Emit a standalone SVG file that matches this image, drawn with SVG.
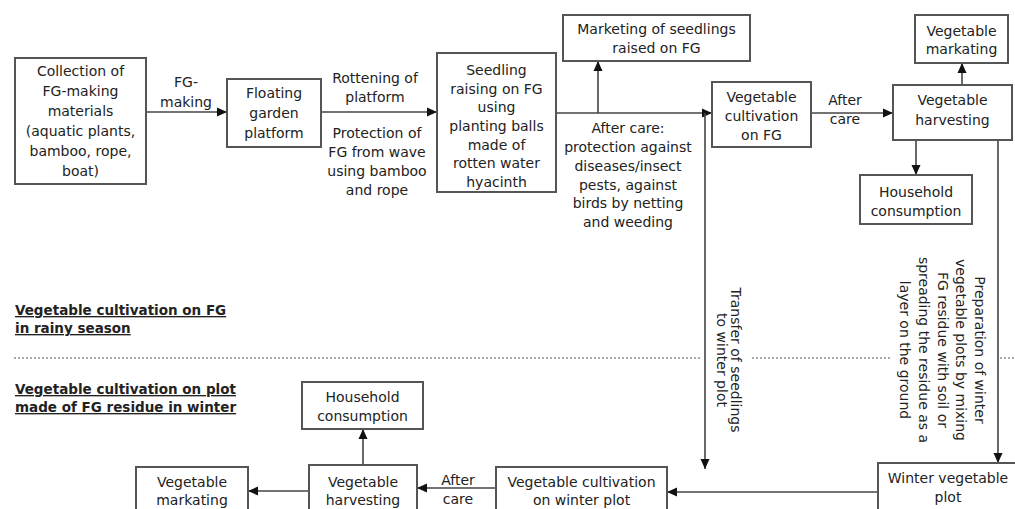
<svg xmlns="http://www.w3.org/2000/svg" width="1015" height="509" viewBox="0 0 1015 509">
<defs>
<marker id="ah" markerUnits="userSpaceOnUse" markerWidth="12" markerHeight="10" refX="10" refY="5" orient="auto">
<path d="M0,0.5 L10,5 L0,9.5 Z" fill="#111"/>
</marker>
<style>
.box{fill:#fff;stroke:#555;stroke-width:2}
.t{font-family:"DejaVu Sans",sans-serif;font-size:14px;fill:#222;text-anchor:middle}
.lbl{font-family:"DejaVu Sans",sans-serif;font-size:13.5px;font-weight:bold;fill:#222;text-decoration:underline}
.c{fill:none;stroke:#444;stroke-width:1.6}
.ca{fill:none;stroke:#444;stroke-width:1.6;marker-end:url(#ah)}
.dot{stroke:#aaa;stroke-width:2;stroke-dasharray:2,2}
</style>
</defs>
<rect width="1015" height="509" fill="#fff"/>

<g id="separator">
<line class="dot" x1="14" y1="358" x2="700" y2="358"/>
<line class="dot" x1="752" y1="358" x2="890" y2="358"/>
<line class="dot" x1="1000" y1="358" x2="1015" y2="358"/>
</g>

<g id="connectors">
<line class="ca" x1="146" y1="112" x2="227" y2="112"/>
<line class="ca" x1="321" y1="112" x2="437" y2="112"/>
<line class="ca" x1="556" y1="113" x2="712" y2="113"/>
<line class="ca" x1="598" y1="113" x2="598" y2="61"/>
<line class="ca" x1="705" y1="113" x2="705" y2="469"/>
<line class="ca" x1="811" y1="113" x2="893" y2="113"/>
<line class="ca" x1="962" y1="85" x2="962" y2="63"/>
<line class="ca" x1="916" y1="140" x2="916" y2="175"/>
<line class="ca" x1="998" y1="140" x2="998" y2="463"/>
<line class="ca" x1="878" y1="492" x2="667" y2="492"/>
<line class="ca" x1="496" y1="488" x2="417" y2="488"/>
<line class="ca" x1="363" y1="465" x2="363" y2="429"/>
<line class="ca" x1="309" y1="491" x2="248" y2="491"/>
</g>

<g id="edge-labels">
<text class="t"><tspan x="186" y="87">FG-</tspan><tspan x="186" y="107">making</tspan></text>
<text class="t"><tspan x="375" y="83">Rottening of</tspan><tspan x="375" y="102">platform</tspan></text>
<text class="t"><tspan x="377" y="138">Protection of</tspan><tspan x="377" y="157">FG from wave</tspan><tspan x="377" y="176">using bamboo</tspan><tspan x="377" y="195">and rope</tspan></text>
<text class="t"><tspan x="628" y="133">After care:</tspan><tspan x="628" y="152">protection against</tspan><tspan x="628" y="171">diseases/insect</tspan><tspan x="628" y="190">pests, against</tspan><tspan x="628" y="208">birds by netting</tspan><tspan x="628" y="227">and weeding</tspan></text>
<text class="t"><tspan x="845" y="105">After</tspan><tspan x="845" y="124">care</tspan></text>
<g id="transfer-label">
<rect x="712" y="352" width="38" height="12" fill="#fff"/>
<text class="t" transform="translate(731,360) rotate(90)"><tspan x="0" y="0">Transfer of seedlings</tspan><tspan x="0" y="14.5">to winter plot</tspan></text>
</g>
<g id="preparation-label">
<text class="t" transform="translate(975,350) rotate(90)"><tspan x="0" y="0">Preparation of winter</tspan><tspan x="0" y="18.7">vegetable plots by mixing</tspan><tspan x="0" y="37.4">FG residue with soil or</tspan><tspan x="0" y="56.1">spreading the residue as a</tspan><tspan x="0" y="74.8">layer on the ground</tspan></text>
</g>
<text class="t"><tspan x="458" y="485">After</tspan><tspan x="458" y="504">care</tspan></text>
</g>

<g id="section-labels">
<text class="lbl"><tspan x="15" y="315">Vegetable cultivation on FG</tspan><tspan x="15" y="333">in rainy season</tspan></text>
<text class="lbl"><tspan x="15" y="394">Vegetable cultivation on plot</tspan><tspan x="15" y="412">made of FG residue in winter</tspan></text>
</g>

<g id="n-collection">
<rect class="box" x="15" y="58" width="131" height="126"/>
<text class="t"><tspan x="80.5" y="76">Collection of</tspan><tspan x="80.5" y="96">FG-making</tspan><tspan x="80.5" y="116">materials</tspan><tspan x="80.5" y="136">(aquatic plants,</tspan><tspan x="80.5" y="156">bamboo, rope,</tspan><tspan x="80.5" y="176">boat)</tspan></text>
</g>
<g id="n-platform">
<rect class="box" x="227" y="79" width="94" height="68"/>
<text class="t"><tspan x="274" y="98">Floating</tspan><tspan x="274" y="118">garden</tspan><tspan x="274" y="138">platform</tspan></text>
</g>
<g id="n-seedling">
<rect class="box" x="437" y="53" width="119" height="139"/>
<text class="t"><tspan x="496.5" y="75">Seedling</tspan><tspan x="496.5" y="94">raising on FG</tspan><tspan x="496.5" y="112">using</tspan><tspan x="496.5" y="131">planting balls</tspan><tspan x="496.5" y="150">made of</tspan><tspan x="496.5" y="168">rotten water</tspan><tspan x="496.5" y="187">hyacinth</tspan></text>
</g>
<g id="n-marketing-seedlings">
<rect class="box" x="563" y="15" width="187" height="46"/>
<text class="t"><tspan x="656.5" y="34">Marketing of seedlings</tspan><tspan x="656.5" y="53">raised on FG</tspan></text>
</g>
<g id="n-cultivation-fg">
<rect class="box" x="712" y="82" width="99" height="65"/>
<text class="t"><tspan x="761.5" y="102">Vegetable</tspan><tspan x="761.5" y="121">cultivation</tspan><tspan x="761.5" y="140">on FG</tspan></text>
</g>
<g id="n-harvest-fg">
<rect class="box" x="893" y="85" width="119" height="55"/>
<text class="t"><tspan x="952.5" y="105">Vegetable</tspan><tspan x="952.5" y="125">harvesting</tspan></text>
</g>
<g id="n-marketing-fg">
<rect class="box" x="915" y="15" width="93" height="48"/>
<text class="t"><tspan x="961.5" y="36">Vegetable</tspan><tspan x="961.5" y="54">markating</tspan></text>
</g>
<g id="n-household-fg">
<rect class="box" x="860" y="175" width="112" height="49"/>
<text class="t"><tspan x="916" y="197">Household</tspan><tspan x="916" y="216">consumption</tspan></text>
</g>
<g id="n-winter-plot">
<rect class="box" x="878" y="463" width="150" height="60"/>
<text class="t"><tspan x="948" y="483">Winter vegetable</tspan><tspan x="948" y="502">plot</tspan></text>
</g>
<g id="n-cultivation-winter">
<rect class="box" x="496" y="467" width="171" height="55"/>
<text class="t"><tspan x="581.5" y="487">Vegetable cultivation</tspan><tspan x="581.5" y="505">on winter plot</tspan></text>
</g>
<g id="n-harvest-winter">
<rect class="box" x="309" y="465" width="108" height="57"/>
<text class="t"><tspan x="363" y="487">Vegetable</tspan><tspan x="363" y="505">harvesting</tspan></text>
</g>
<g id="n-household-winter">
<rect class="box" x="302" y="382" width="121" height="47"/>
<text class="t"><tspan x="362.5" y="402">Household</tspan><tspan x="362.5" y="421">consumption</tspan></text>
</g>
<g id="n-marketing-winter">
<rect class="box" x="136" y="467" width="112" height="55"/>
<text class="t"><tspan x="192" y="487">Vegetable</tspan><tspan x="192" y="505">markating</tspan></text>
</g>
</svg>
